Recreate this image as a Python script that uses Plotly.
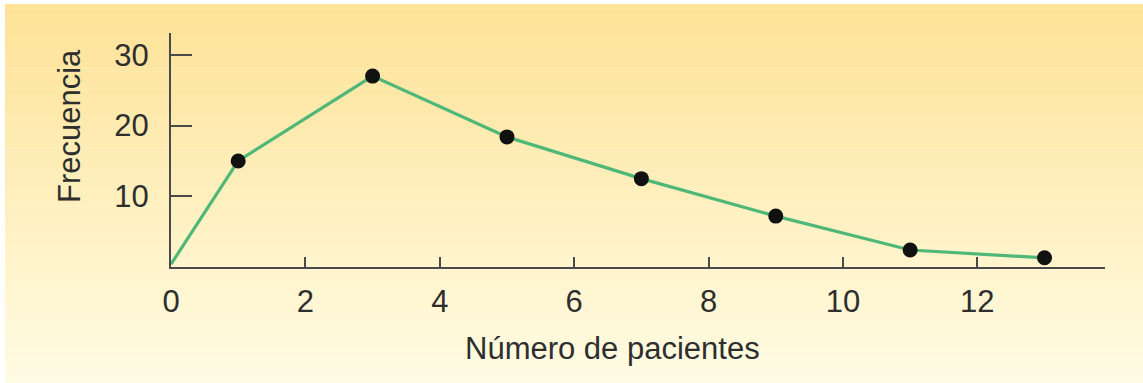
import plotly.graph_objects as go

# Frequency polygon: number of patients vs. frequency
pacientes = [0, 1, 3, 5, 7, 9, 11, 13]
frecuencia = [0.4, 15, 27, 18.4, 12.5, 7.2, 2.4, 1.3]

x_ticks = [0, 2, 4, 6, 8, 10, 12]
y_ticks = [10, 20, 30]

FONT = "Liberation Sans, Arial, sans-serif"
TEXT = "#2e2e2e"
AXIS = "#4a4a4a"
GREEN = "#4fb878"
FS = 31

W, H = 1143, 383
L, R, T, B = 171, 38, 33, 116

fig = go.Figure()

# line of the polygon
fig.add_trace(go.Scatter(
    x=pacientes, y=frecuencia, mode="lines",
    line=dict(color=GREEN, width=3.2),
    hoverinfo="skip", showlegend=False, cliponaxis=False,
))
# class-mark points (origin has no marker)
fig.add_trace(go.Scatter(
    x=pacientes[1:], y=frecuencia[1:], mode="markers",
    marker=dict(color="#111111", size=15, line=dict(width=0)),
    showlegend=False, cliponaxis=False,
))

# vertical yellow gradient behind everything
shapes = []
n = 90
top = (254, 226, 150)
bot = (255, 252, 228)
pw = W - L - R
ph = H - T - B
x0p = -(L - 5) / pw
x1p = 1 + R / pw
y_top = 1 + (T - 4) / ph
y_bot = -B / ph
for i in range(n):
    t = i / (n - 1)
    c = tuple(round(top[k] + (bot[k] - top[k]) * t) for k in range(3))
    ya = y_top + (y_bot - y_top) * i / n
    yb = y_top + (y_bot - y_top) * (i + 1) / n
    shapes.append(dict(
        type="rect", xref="paper", yref="paper", layer="below",
        x0=x0p, x1=x1p, y0=yb - 0.002, y1=ya,
        fillcolor="rgb(%d,%d,%d)" % c, line=dict(width=0),
    ))

fig.update_layout(
    width=W, height=H,
    margin=dict(l=L, r=R, t=T, b=B),
    paper_bgcolor="white",
    plot_bgcolor="rgba(0,0,0,0)",
    shapes=shapes,
    font=dict(family=FONT, color=TEXT, size=FS),
    xaxis=dict(
        range=[0, 13.9], tickvals=x_ticks, ticktext=[str(v) for v in x_ticks],
        showgrid=False, zeroline=False, showline=True, linecolor=AXIS, linewidth=2,
        ticks="inside", ticklen=10, tickwidth=2, tickcolor=AXIS,
        tickfont=dict(family=FONT, size=FS, color=TEXT),
        ticklabelstandoff=6,
    ),
    yaxis=dict(
        range=[0, 33.1], tickvals=y_ticks, ticktext=[str(v) for v in y_ticks],
        showgrid=False, zeroline=False, showline=True, linecolor=AXIS, linewidth=2,
        ticks="inside", ticklen=21, tickwidth=2, tickcolor=AXIS,
        tickfont=dict(family=FONT, size=FS, color=TEXT),
        ticklabelstandoff=14,
    ),
    annotations=[
        dict(text="Número de pacientes", xref="paper", yref="paper",
             x=(612 - L) / pw, y=-(348 - (H - B)) / ph, showarrow=False,
             xanchor="center", yanchor="middle",
             font=dict(family=FONT, size=FS, color=TEXT)),
        dict(text="Frecuencia", xref="paper", yref="paper",
             x=-(L - 69) / pw, y=(H - B - 126) / ph, showarrow=False,
             xanchor="center", yanchor="middle", textangle=-90,
             font=dict(family=FONT, size=FS, color=TEXT)),
    ],
)

fig.write_html("out.html")
